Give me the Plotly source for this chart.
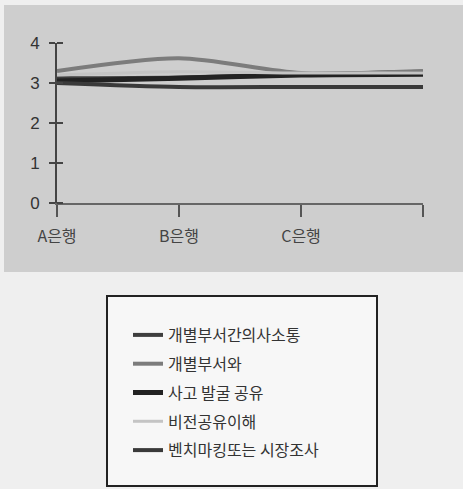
import plotly.graph_objects as go

# Survey scores per bank (4 category slots; the last slot carries no label)
categories = ["A은행", "B은행", "C은행", ""]

series_names = [
    "개별부서간의사소통",
    "개별부서와",
    "사고 발굴 공유",
    "비전공유이해",
    "벤치마킹또는 시장조사",
]
s_communication = [3.12, 3.14, 3.22, 3.28]
s_departments = [3.30, 3.62, 3.25, 3.30]
s_accidents = [3.05, 3.12, 3.20, 3.22]
s_vision = [3.20, 3.28, 3.25, 3.25]
s_benchmark = [3.00, 2.90, 2.90, 2.90]
series_values = [s_communication, s_departments, s_accidents, s_vision, s_benchmark]

y_ticks = [0, 1, 2, 3, 4]

line_colors = ["#3e3e3e", "#7c7c7c", "#222222", "#c4c4c4", "#3a3a3a"]
line_widths = [4, 4, 5, 3, 4]

FONT = "Liberation Sans, Noto Sans CJK KR, sans-serif"
W, H = 463, 489

fig = go.Figure()
x_pos = list(range(len(categories)))
for i, (name, vals) in enumerate(zip(series_names, series_values)):
    fig.add_trace(go.Scatter(
        x=x_pos, y=vals, name=name, mode="lines",
        line=dict(color=line_colors[i], width=line_widths[i], shape="spline", smoothing=0.8),
        legendgroup=f"g{i}",
    ))

# panel backgrounds and legend frame
fig.add_shape(type="rect", xref="paper", yref="paper",
              x0=4 / W, x1=1, y0=1 - 272 / H, y1=1 - 5 / H,
              fillcolor="#cecece", line=dict(width=0), layer="below")
fig.add_shape(type="rect", xref="paper", yref="paper",
              x0=107 / W, x1=377 / W, y0=1 - 486 / H, y1=1 - 296 / H,
              fillcolor="#f7f7f7", line=dict(color="#222222", width=2), layer="below")

fig.update_layout(
    width=W, height=H,
    margin=dict(l=0, r=0, t=0, b=0, autoexpand=False),
    paper_bgcolor="#efefef",
    plot_bgcolor="rgba(0,0,0,0)",
    font=dict(family=FONT, size=15, color="#333333"),
    showlegend=True,
    legend=dict(
        x=128 / W, y=1 - 318 / H, xanchor="left", yanchor="top",
        bgcolor="rgba(0,0,0,0)", borderwidth=0,
        font=dict(family="Noto Sans CJK KR, sans-serif", size=16, color="#333333"),
        tracegroupgap=5, itemwidth=30,
    ),
    xaxis=dict(
        domain=[57 / W, 423 / W], range=[0, 3], automargin=False,
        tickmode="array", tickvals=x_pos, ticktext=categories,
        showgrid=False, zeroline=False,
        showline=True, linecolor="#666666", linewidth=2,
        ticks="outside", ticklen=12, tickwidth=2, tickcolor="#555555",
        tickfont=dict(family="Noto Sans CJK KR, sans-serif", size=16, color="#444444"),
        ticklabelstandoff=6,
    ),
    yaxis=dict(
        domain=[1 - 203 / H, 1 - 43 / H], range=[0, 4], automargin=False,
        tickmode="array", tickvals=y_ticks,
        showgrid=False, zeroline=False,
        showline=True, linecolor="#444444", linewidth=2,
        ticks="outside", ticklen=6, tickwidth=1.5, tickcolor="#444444",
        minor=dict(tickmode="array", tickvals=y_ticks, ticks="inside",
                   ticklen=6, tickwidth=1.5, tickcolor="#444444"),
        tickfont=dict(family=FONT, size=17, color="#333333"),
        ticklabelstandoff=6,
    ),
)

fig.write_html("out.html")
